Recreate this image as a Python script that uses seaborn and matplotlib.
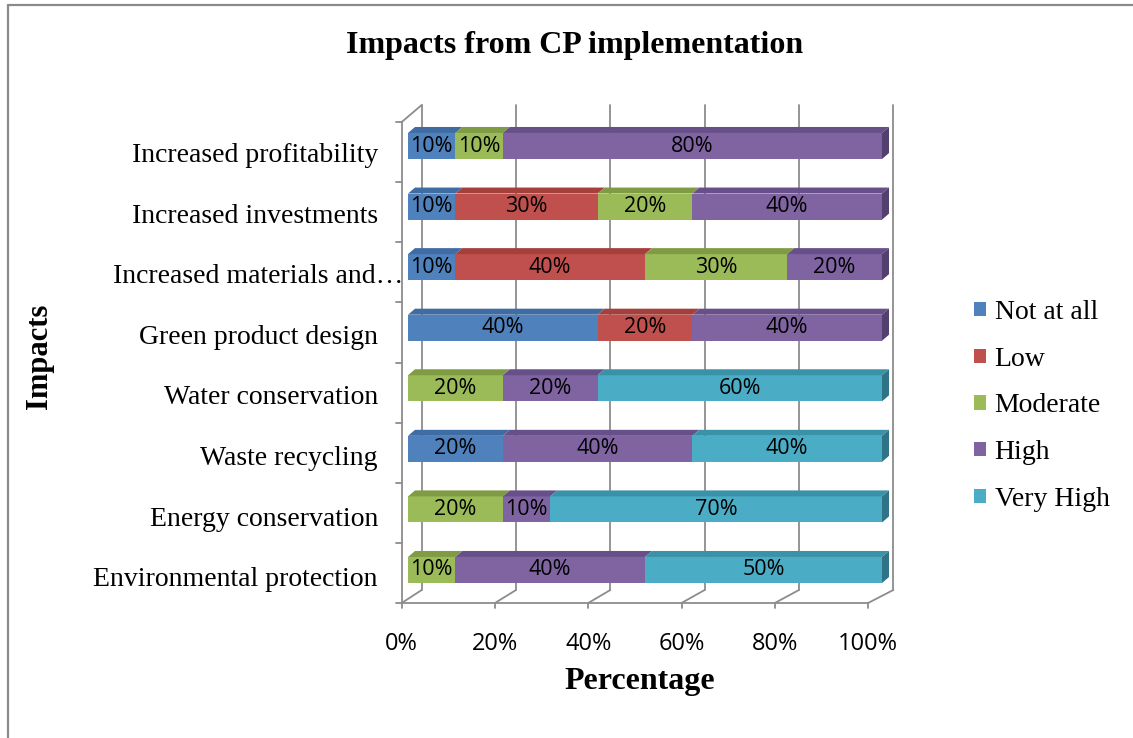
import numpy as np
import pandas as pd
import matplotlib
matplotlib.use("Agg")
import matplotlib.pyplot as plt
from matplotlib.patches import Polygon, Patch
from matplotlib.lines import Line2D
import seaborn as sns

# ---- data -------------------------------------------------------------
impacts = [
    "Increased profitability",
    "Increased investments",
    "Increased materials and…",
    "Green product design",
    "Water conservation",
    "Waste recycling",
    "Energy conservation",
    "Environmental protection",
]
levels = ["Not at all", "Low", "Moderate", "High", "Very High"]
not_at_all = [10, 10, 10, 40, 0, 20, 0, 0]
low = [0, 30, 40, 20, 0, 0, 0, 0]
moderate = [10, 20, 30, 0, 20, 0, 20, 10]
high = [80, 40, 20, 40, 20, 40, 10, 40]
very_high = [0, 0, 0, 0, 60, 40, 70, 50]
x_ticks = [0, 20, 40, 60, 80, 100]

# front / top / side shades of each series (Office 2007 palette)
front_colors = ["#4F81BD", "#C0504D", "#9BBB59", "#8064A2", "#4BACC6"]
top_colors = ["#3E6CA3", "#A43F3C", "#7F9C45", "#675089", "#3A92A9"]
side_colors = ["#2F5583", "#87312F", "#657D36", "#52406E", "#2E7386"]

sns.set_theme(style="white")
plt.rcParams["font.family"] = ["Liberation Serif", "DejaVu Serif"]
plt.rcParams.update({"text.color": "black", "axes.labelcolor": "black",
                     "xtick.color": "black", "ytick.color": "black"})
SANS = ["Open Sans", "DejaVu Sans"]

W, H = 1133, 738
fig = plt.figure(figsize=(W / 100, H / 100), dpi=100)
fig.patch.set_facecolor("white")

# plot region in pixels
L, R, T, B = 396, 910, 95, 615
ax = fig.add_axes([L / W, 1 - B / H, (R - L) / W, (B - T) / H])

df = pd.DataFrame({"impact": impacts})
for name, vals in zip(levels, [not_at_all, low, moderate, high, very_high]):
    df[name] = vals

# ---- stacked bars ------------------------------------------------------
BAR_H = 0.43
left = np.zeros(len(impacts))
for name, col in zip(levels, front_colors):
    sns.barplot(data=df, x=name, y="impact", left=left.copy(), color=col,
                saturation=1, width=BAR_H, errorbar=None, linewidth=0,
                orient="h", ax=ax, zorder=3)
    left += df[name].to_numpy()

# axis scale: 4.74 px per percent, 60.57 px per category row
ax.set_xlim(-2.532, 105.908)
ax.set_ylim(7.743, -0.842)

# depth of the bar solids, in data units
DX = 7 / 4.74
DY = 6 / 60.57

totals = df[levels].sum(axis=1).to_numpy()
for k, (name, cont) in enumerate(zip(levels, ax.containers)):
    vals = df[name].to_numpy()
    for i, bar in enumerate(cont.patches):
        w = bar.get_width()
        if w <= 0:
            continue
        x0, y0, h = bar.get_x(), bar.get_y(), bar.get_height()
        x1 = x0 + w
        ax.add_patch(Polygon([(x0, y0), (x1, y0), (x1 + DX, y0 - DY), (x0 + DX, y0 - DY)],
                             closed=True, facecolor=top_colors[k], edgecolor="none", zorder=3))
        if abs(x1 - totals[i]) < 1e-9:
            ax.add_patch(Polygon([(x1, y0), (x1 + DX, y0 - DY), (x1 + DX, y0 + h - DY), (x1, y0 + h)],
                                 closed=True, facecolor=side_colors[k], edgecolor="none", zorder=3))
    ax.bar_label(cont, labels=[f"{v}%" if v > 0 else "" for v in vals],
                 label_type="center", fontsize=15.5, family=SANS, color="black", zorder=5)

# ---- 3-D walls and floor ----------------------------------------------
def xf(v):
    # front edge of floor
    return -1.33 + v * 0.984


def xb(v):
    # back wall
    return 2.89 + v * 0.995


Y_BACK_TOP, Y_BACK_FLOOR = -0.677, 7.33
Y_FRONT_TOP, Y_FRONT_FLOOR = -0.396, 7.545
GRID = "#8C8C8C"
LW = 1.3
for v in x_ticks:
    ax.plot([xb(v), xb(v)], [Y_BACK_TOP, Y_BACK_FLOOR], color=GRID, lw=LW, zorder=1)
    ax.plot([xb(v), xf(v)], [Y_BACK_FLOOR, Y_FRONT_FLOOR], color=GRID, lw=LW, zorder=1)
    ax.plot([xf(v), xf(v)], [Y_FRONT_FLOOR, Y_FRONT_FLOOR + 0.09], color=GRID, lw=LW,
            zorder=1, clip_on=False)
ax.plot([xf(0), xf(100)], [Y_FRONT_FLOOR, Y_FRONT_FLOOR], color=GRID, lw=LW, zorder=1)
ax.plot([xf(0), xf(0)], [Y_FRONT_TOP, Y_FRONT_FLOOR], color=GRID, lw=LW, zorder=1)
ax.plot([xf(0), xb(0)], [Y_FRONT_TOP, Y_BACK_TOP], color=GRID, lw=LW, zorder=1)
row_step = (Y_FRONT_FLOOR - Y_FRONT_TOP) / len(impacts)
for j in range(len(impacts) + 1):
    yy = Y_FRONT_TOP + j * row_step
    ax.plot([xf(0) - 1.1, xf(0)], [yy, yy], color=GRID, lw=LW, zorder=1, clip_on=False)

# ---- ticks and labels --------------------------------------------------
for s in ax.spines.values():
    s.set_visible(False)
ax.set_xticks([xf(v) for v in x_ticks], labels=[f"{v}%" for v in x_ticks])
ax.set_yticks([i + 0.11 for i in range(len(impacts))], labels=impacts)
ax.tick_params(axis="x", length=0, pad=12, labelsize=17)
ax.tick_params(axis="y", length=0, pad=13, labelsize=20)
for lab in ax.get_xticklabels():
    lab.set_family(SANS)
# the truncated label runs on towards the wall
ax.yaxis.get_major_ticks()[2].set_pad(13 - 25 * 0.72)

ax.set_xlabel("Percentage", fontsize=23, fontweight="bold")
ax.xaxis.set_label_coords((640 - L) / (R - L), (B - 667) / (B - T))
ax.set_ylabel("Impacts", fontsize=22, fontweight="bold")
ax.yaxis.set_label_coords((54 - L) / (R - L), (B - 356) / (B - T))

fig.text(575 / W, 1 - 45 / H, "Impacts from CP implementation", ha="center", va="center",
         fontsize=23, fontweight="bold")

handles = [Patch(facecolor=c, edgecolor="none") for c in front_colors]
fig.legend(handles, levels, loc="upper left", bbox_to_anchor=(963 / W, 1 - 289 / H),
           frameon=False, fontsize=20, handlelength=0.42, handleheight=0.42,
           handletextpad=0.32, labelspacing=0.78, borderaxespad=0)

# chart frame
fig.add_artist(Line2D([7.5 / W, 7.5 / W], [0, 1 - 4.5 / H], transform=fig.transFigure,
                      color="#8A8A8A", lw=1.6))
fig.add_artist(Line2D([7.5 / W, 1], [1 - 4.5 / H, 1 - 4.5 / H], transform=fig.transFigure,
                      color="#8A8A8A", lw=1.6))

fig.savefig("out.png", dpi=100, facecolor="white")
